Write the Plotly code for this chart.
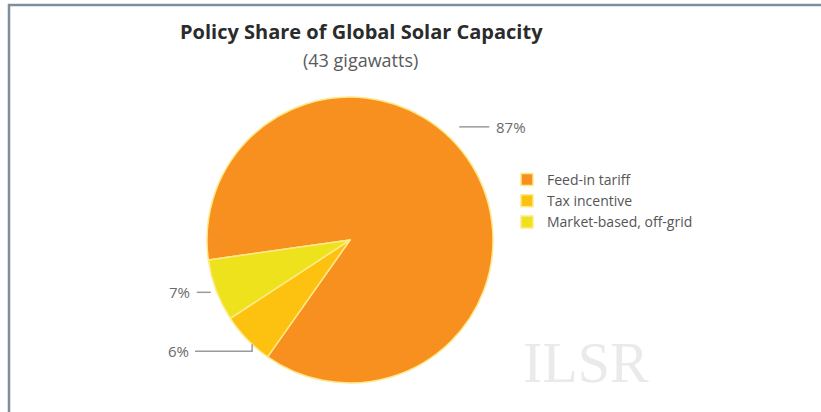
import math
import plotly.graph_objects as go

labels = ["Feed-in tariff", "Tax incentive", "Market-based, off-grid"]
values = [87, 6, 7]
text_labels = ["87%", "6%", "7%"]
colors = ["#F7901E", "#FDC20F", "#EEE21C"]

W, H = 821, 412
CX, CY, R = 350, 240, 143
ROT = 262

def px(x):
    return x / W

def py(y):
    return 1 - y / H

fig = go.Figure()
fig.add_trace(go.Pie(
    labels=labels, values=values, sort=False, direction="clockwise",
    rotation=ROT, textinfo="none", hoverinfo="label+percent",
    marker=dict(colors=colors, line=dict(color="#FFE98A", width=1.5)),
    domain=dict(x=[px(CX - R), px(CX + R)], y=[py(CY + R), py(CY - R)]),
))

total = sum(values)
angles = []
a = ROT
for v in values:
    span = 360 * v / total
    angles.append((a, a + span))
    a += span

def pt(angle, rr):
    t = math.radians(angle)
    return CX + rr * math.sin(t), CY - rr * math.cos(t)

line_style = dict(color="#9A9A9A", width=1.5)
shapes = []
annotations = []
lab_font = dict(family="Open Sans", size=15, color="#6B6B6B")

# 87% label
x0, y0 = pt(44, R * 1.1)
shapes.append(dict(type="line", xref="paper", yref="paper", x0=px(x0), y0=py(y0), x1=px(x0 + 30), y1=py(y0), line=line_style))
annotations.append(dict(x=px(x0 + 35), y=py(y0), xref="paper", yref="paper", text=text_labels[0], showarrow=False, xanchor="left", yanchor="middle", font=lab_font))

# 7% label
m = sum(angles[2]) / 2
x0, y0 = pt(m, R * 1.04)
shapes.append(dict(type="line", xref="paper", yref="paper", x0=px(x0), y0=py(y0), x1=px(x0 - 14), y1=py(y0), line=line_style))
annotations.append(dict(x=px(x0 - 19), y=py(y0), xref="paper", yref="paper", text=text_labels[2], showarrow=False, xanchor="right", yanchor="middle", font=lab_font))

# 6% label
m = sum(angles[1]) / 2
x0, y0 = pt(m, R * 1.0)
x0 += 5
y0 += 5
shapes.append(dict(type="path", xref="paper", yref="paper",
                   path=f"M {px(x0)},{py(y0)} L {px(x0)},{py(y0 + 7)} L {px(195)},{py(y0 + 7)}", line=line_style))
annotations.append(dict(x=px(191), y=py(y0 + 7), xref="paper", yref="paper", text=text_labels[1], showarrow=False, xanchor="right", yanchor="middle", font=lab_font))

# frame
shapes.append(dict(type="rect", xref="paper", yref="paper", x0=px(9), y0=py(416), x1=px(840), y1=py(5),
                   line=dict(color="#7D8F9C", width=2.5), layer="below"))

# titles
annotations.append(dict(x=px(361), y=py(32), xref="paper", yref="paper", text="<b>Policy Share of Global Solar Capacity</b>",
                        showarrow=False, xanchor="center", yanchor="middle",
                        font=dict(family="Open Sans", size=20, color="#2B2B2B")))
annotations.append(dict(x=px(360), y=py(60), xref="paper", yref="paper", text="(43 gigawatts)",
                        showarrow=False, xanchor="center", yanchor="middle",
                        font=dict(family="Open Sans", size=18, color="#5A5A5A")))
# watermark
annotations.append(dict(x=px(586), y=py(362), xref="paper", yref="paper", text="ILSR",
                        showarrow=False, xanchor="center", yanchor="middle",
                        font=dict(family="Liberation Serif", size=58, color="#EAEAEA")))

fig.update_layout(
    width=W, height=H, margin=dict(l=0, r=0, t=0, b=0),
    paper_bgcolor="white", plot_bgcolor="white",
    shapes=shapes, annotations=annotations,
    showlegend=True,
    legend=dict(x=px(507), y=py(164), xanchor="left", yanchor="top",
                font=dict(family="Open Sans", size=14, color="#555555"),
                itemwidth=30, tracegroupgap=0, bgcolor="rgba(0,0,0,0)"),
)
fig.write_html("out.html")
